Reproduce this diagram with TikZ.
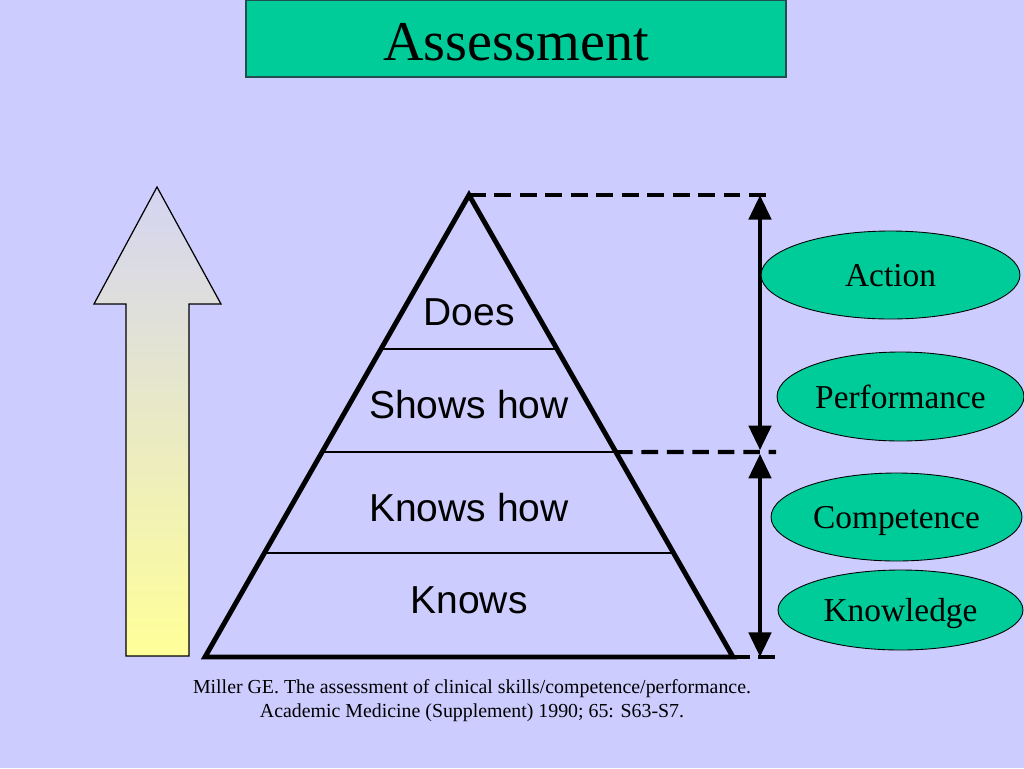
\documentclass[tikz,border=0pt]{standalone}
\usepackage{fontspec}
\setmainfont{Liberation Serif}
\newfontfamily\arialfont{Liberation Sans}
\usepackage{tikz}
\usetikzlibrary{arrows.meta, positioning, calc, shapes.geometric}
\definecolor{slidebg}{HTML}{CCCCFF}
\definecolor{sea}{HTML}{00CC99}
\definecolor{seaedge}{HTML}{1F4F4F}
\definecolor{arrowtop}{HTML}{D4D4F2}
\definecolor{arrowmid}{HTML}{E2E2E0}
\definecolor{arrowbot}{HTML}{FFFF99}

\begin{document}
\begin{tikzpicture}[x=0.02cm, y=-0.02cm,
    oval/.style={ellipse, draw=black, line width=0.5pt, fill=sea, inner sep=0pt, text depth=0pt, font=\fontsize{19}{22}\selectfont},
    level/.style={font=\arialfont\fontsize{22.2}{26}\selectfont},
    rung/.style={line width=1.2pt},
    guide/.style={line width=2.3pt, dash pattern=on 9.5pt off 5pt},
    span/.style={line width=2.8pt, {Triangle[width=12.5pt,length=14pt]}-{Triangle[width=12.5pt,length=14pt]}}]
    % Slide background
    \fill[slidebg] (0,0) rectangle (1024,768);
    \useasboundingbox (0,0) rectangle (1024,768);
    % Title
    \node[draw=seaedge, line width=0.7pt, fill=sea, minimum width=10.8cm, minimum height=1.54cm] (title) at (516,38.5) {};
    \node[font=\fontsize{32}{36}\selectfont] (titletext) at (516,42) {Assessment};
    % Rising arrow on the left
    \draw[line width=0.7pt, top color=arrowtop, middle color=arrowmid, bottom color=arrowbot]
        (157,187) -- (221,304) -- (189,304) -- (189,656) -- (126,656) -- (126,304) -- (94,304) -- cycle;
    % Pyramid
    \coordinate (apex) at (469,195);
    \coordinate (bl) at (205,657);
    \coordinate (br) at (733,657);
    \draw[rung] ($(apex)!0.3333!(bl)$) -- ($(apex)!0.3333!(br)$);
    \draw[rung] ($(apex)!0.5563!(bl)$) -- ($(apex)!0.5563!(br)$);
    \draw[rung] ($(apex)!0.7749!(bl)$) -- ($(apex)!0.7749!(br)$);
    \draw[line width=2.8pt, line join=miter] (apex) -- (br) -- (bl) -- cycle;
    \node[level] (does) at (469,312) {Does};
    \node[level] (shows) at (469,405) {Shows how};
    \node[level] (knowshow) at (469,508) {Knows how};
    \node[level] (knows) at (469,600) {Knows};
    % Dashed guides
    \coordinate (topR) at (768,195);
    \coordinate (midR) at (776,452);
    \coordinate (botR) at (776,657);
    \draw[guide] (apex) -- (topR);
    \draw[guide] ($(apex)!0.5563!(br)$) -- (midR);
    \draw[guide] (br) -- (botR);
    % Double arrows
    \coordinate (aTop) at (760,195);
    \coordinate (aMid) at (760,452);
    \coordinate (aBot) at (760,657);
    \draw[span] (aTop) -- ([yshift=1pt]aMid);
    \draw[span] ([yshift=-1pt]aMid) -- (aBot);
    % Ovals
    \node[oval, minimum width=5.18cm, minimum height=1.76cm] (action) at (890.5,275) {Action};
    \node[oval, minimum width=4.94cm, minimum height=1.78cm] (perf) at (900.5,396.5) {Performance};
    \node[oval, minimum width=5.02cm, minimum height=1.76cm] (comp) at (896.5,517) {Competence};
    \node[oval, minimum width=4.9cm, minimum height=1.6cm] (knowl) at (900.5,610) {Knowledge};
    % Reference
    \node[align=center, font=\fontsize{11.3}{13.6}\selectfont] (ref) at (472,701)
        {Miller GE. The assessment of clinical skills/competence/performance.\\
         Academic Medicine (Supplement) 1990; 65: S63-S7.};
\end{tikzpicture}
\end{document}
